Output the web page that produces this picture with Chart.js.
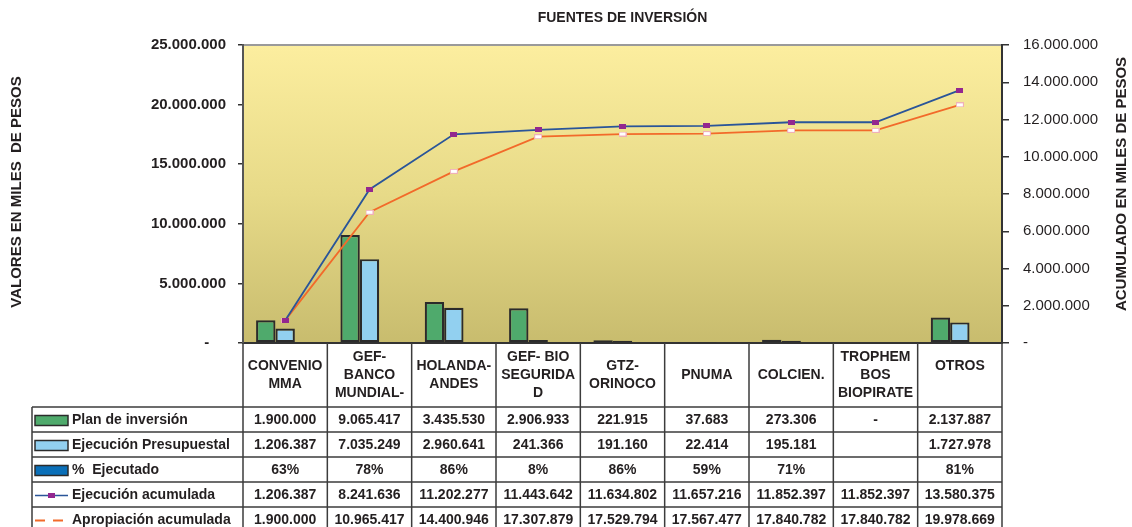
<!DOCTYPE html>
<html><head><meta charset="utf-8">
<script src="https://cdn.jsdelivr.net/npm/chart.js@4.4.0/dist/chart.umd.min.js"></script>
<style>html,body{margin:0;padding:0;background:#fff;}canvas{display:block;}</style>
</head><body>
<canvas id="c" width="1132" height="527"></canvas>
<script>
// ---- data ----
const chartTitle = "FUENTES DE INVERSIÓN";
const leftAxisTitle = "VALORES EN MILES  DE PESOS";
const rightAxisTitle = "ACUMULADO EN MILES DE PESOS";
const categories = [["CONVENIO","MMA"],["GEF-","BANCO","MUNDIAL-"],["HOLANDA-","ANDES"],["GEF- BIO","SEGURIDA","D"],["GTZ-","ORINOCO"],["PNUMA"],["COLCIEN."],["TROPHEM","BOS","BIOPIRATE"],["OTROS",""]];
const planInversion = [1900000, 9065417, 3435530, 2906933, 221915, 37683, 273306, null, 2137887];
const ejecucionPresupuestal = [1206387, 7035249, 2960641, 241366, 191160, 22414, 195181, null, 1727978];
const porcentajeEjecutado = [0.63, 0.78, 0.86, 0.08, 0.86, 0.59, 0.71, null, 0.81];
const ejecucionAcumulada = [1206387, 8241636, 11202277, 11443642, 11634802, 11657216, 11852397, 11852397, 13580375];
const apropiacionAcumulada = [1900000, 10965417, 14400946, 17307879, 17529794, 17567477, 17840782, 17840782, 19978669];
const seriesNames = ["Plan de inversión","Ejecución Presupuestal","%  Ejecutado","Ejecución acumulada","Apropiación acumulada"];
const leftAxisMax = 25000000, leftAxisStep = 5000000;
const rightAxisMax = 16000000, rightAxisStep = 2000000;

// ---- helpers ----
const FONT = '"Liberation Sans", Arial, Helvetica, sans-serif';
const TXT = '#231f20';
function fmt(n){ return Math.round(n).toString().replace(/\B(?=(\d{3})+(?!\d))/g,'.'); }
function marker(w,h,fill,stroke){
  const c=document.createElement('canvas'); c.width=w; c.height=h;
  const g=c.getContext('2d'); g.fillStyle=fill; g.fillRect(0,0,w,h);
  if(stroke){ g.strokeStyle=stroke; g.lineWidth=1; g.strokeRect(0.5,0.5,w-1,h-1); }
  return c;
}
const COL = {plan:'#4faa6c', ejec:'#92d0f0', pct:'#0a6fb8', ejAc:'#2a5599', apAc:'#f26a2a', border:'#2b2b2b'};
const purpleMarker = marker(7,5,'#93278f');
const whiteMarker = marker(8,5,'#ffffff','#f0b0b8');

const tableRows = [
  {name: seriesNames[0], key:'box', color: COL.plan, texts: planInversion.map(v=>v==null?'-':fmt(v))},
  {name: seriesNames[1], key:'box', color: COL.ejec, texts: ejecucionPresupuestal.map(v=>v==null?'':fmt(v))},
  {name: seriesNames[2], key:'box', color: COL.pct, texts: porcentajeEjecutado.map(v=>v==null?'':Math.round(v*100)+'%')},
  {name: seriesNames[3], key:'line', color: COL.ejAc, texts: ejecucionAcumulada.map(fmt)},
  {name: seriesNames[4], key:'dash', color: COL.apAc, texts: apropiacionAcumulada.map(fmt)}
];

const decor = {
  id:'decor',
  beforeDraw(chart){
    const {ctx, chartArea:a} = chart;
    const g = ctx.createLinearGradient(0,a.top,0,a.bottom);
    g.addColorStop(0,'#fcee9f'); g.addColorStop(0.5,'#e7da88'); g.addColorStop(1,'#c8bc6e');
    ctx.save();
    ctx.fillStyle=g; ctx.fillRect(a.left,a.top,a.right-a.left,a.bottom-a.top);
    ctx.strokeStyle='#9a9a9a'; ctx.lineWidth=2;
    ctx.beginPath(); ctx.moveTo(a.left,a.top); ctx.lineTo(a.right,a.top); ctx.stroke();
    ctx.restore();
  },
  afterDraw(chart){
    const {ctx, chartArea:a} = chart;
    const xs = chart.scales.x;
    ctx.save();
    ctx.fillStyle = TXT;
    // title
    ctx.font = 'bold 14px '+FONT; ctx.textAlign='center'; ctx.textBaseline='middle';
    ctx.fillText(chartTitle, (a.left+a.right)/2, 18);
    // axis titles
    ctx.font = 'bold 15px '+FONT;
    ctx.save(); ctx.translate(17, 192); ctx.rotate(-Math.PI/2); ctx.fillText(leftAxisTitle,0,0); ctx.restore();
    ctx.save(); ctx.translate(1122, 184); ctx.rotate(-Math.PI/2); ctx.fillText(rightAxisTitle,0,0); ctx.restore();

    // table
    const n = categories.length;
    const step = xs.getPixelForValue(1) - xs.getPixelForValue(0);
    const centers = categories.map((_,i)=>xs.getPixelForValue(i));
    const edges = centers.map(c=>c-step/2); edges.push(centers[n-1]+step/2);
    const hTop = a.bottom, hBot = 407, rowH = 25, tLeft = 32, bottom = 527;
    ctx.strokeStyle = '#3c3c3c'; ctx.lineWidth = 1.5;
    ctx.beginPath();
    edges.forEach(x=>{ ctx.moveTo(x,hTop); ctx.lineTo(x,bottom); });
    ctx.moveTo(tLeft,hBot); ctx.lineTo(tLeft,bottom);
    for(let r=0;r<tableRows.length;r++){ const y=hBot+r*rowH; ctx.moveTo(tLeft,y); ctx.lineTo(edges[n],y); }
    ctx.stroke();
    // header labels
    ctx.font = 'bold 14px '+FONT; ctx.textAlign='center'; ctx.textBaseline='middle';
    const lh = 18;
    categories.forEach((lines,i)=>{
      const y0 = (hTop+hBot)/2 - (lines.length*lh)/2 + lh/2;
      lines.forEach((t,k)=>ctx.fillText(t, centers[i], y0+k*lh));
    });
    // rows
    tableRows.forEach((row,r)=>{
      const yc = hBot + r*rowH + rowH/2 + 1;
      if(row.key==='box'){
        ctx.fillStyle=row.color; ctx.fillRect(35,yc-5,33,10);
        ctx.strokeStyle='#2b2b2b'; ctx.lineWidth=1.5; ctx.strokeRect(35,yc-5,33,10);
      } else if(row.key==='line'){
        ctx.strokeStyle=row.color; ctx.lineWidth=1.5; ctx.beginPath(); ctx.moveTo(35,yc); ctx.lineTo(68,yc); ctx.stroke();
        ctx.drawImage(purpleMarker, 51.5-3.5, yc-2.5);
      } else {
        ctx.strokeStyle=row.color; ctx.lineWidth=1.8; ctx.setLineDash([10,8]);
        ctx.beginPath(); ctx.moveTo(35,yc); ctx.lineTo(68,yc); ctx.stroke(); ctx.setLineDash([]);
      }
      ctx.fillStyle=TXT; ctx.font='bold 14px '+FONT; ctx.textAlign='left';
      ctx.fillText(row.name, 72, yc);
      ctx.textAlign='center';
      row.texts.forEach((t,i)=>ctx.fillText(t, centers[i], yc));
    });
    ctx.restore();
  }
};

new Chart(document.getElementById('c'), {
  type:'bar',
  data:{
    labels: categories,
    datasets:[
      {label:seriesNames[3], type:'line', data:ejecucionAcumulada, yAxisID:'y1', borderColor:COL.ejAc, borderWidth:1.8, pointStyle:purpleMarker, pointRadius:4, tension:0, fill:false, order:0},
      {label:seriesNames[4], type:'line', data:apropiacionAcumulada, yAxisID:'y', borderColor:COL.apAc, borderWidth:1.8, pointStyle:whiteMarker, pointRadius:4, tension:0, fill:false, order:0},
      {label:seriesNames[0], data:planInversion, yAxisID:'y', backgroundColor:COL.plan, borderColor:COL.border, borderWidth:2.2, borderSkipped:false, order:1},
      {label:seriesNames[1], data:ejecucionPresupuestal, yAxisID:'y', backgroundColor:COL.ejec, borderColor:COL.border, borderWidth:2.2, borderSkipped:false, order:1},
      // % values are tiny on the value axis, so these bars are not visible (as in the original)
      {label:seriesNames[2], data:porcentajeEjecutado, yAxisID:'y', backgroundColor:'rgba(10,111,184,0)', borderWidth:0, order:1}
    ]
  },
  options:{
    responsive:false, animation:false,
    layout:{padding:{top:45,left:0,right:0,bottom:0}},
    datasets:{bar:{categoryPercentage:0.69, barPercentage:1}},
    plugins:{legend:{display:false}, tooltip:{enabled:false}, title:{display:false}},
    scales:{
      x:{position:'bottom', offset:true, grid:{display:false}, ticks:{display:false}, border:{display:true,color:'#333',width:2},
         afterFit(s){ s.height=184; }},
      y:{position:'left', min:0, max:leftAxisMax, afterFit(s){ s.width=243; },
         grid:{drawOnChartArea:false, drawTicks:true, tickLength:5, color:'#333', lineWidth:1.5},
         border:{display:true,color:'#555',width:2},
         ticks:{stepSize:leftAxisStep, padding:12, color:TXT, font:{family:FONT, size:15, weight:'bold'},
                callback:v=> v===0 ? '-    ' : fmt(v)}},
      y1:{position:'right', min:0, max:rightAxisMax, afterFit(s){ s.width=130; },
         grid:{drawOnChartArea:false, drawTicks:true, tickLength:7, color:'#333', lineWidth:1.5},
         border:{display:true,color:'#333',width:2},
         ticks:{stepSize:rightAxisStep, padding:14, color:TXT, font:{family:FONT, size:15},
                callback:v=> v===0 ? '-' : fmt(v)}}
    }
  },
  plugins:[decor]
});
</script>
</body></html>
